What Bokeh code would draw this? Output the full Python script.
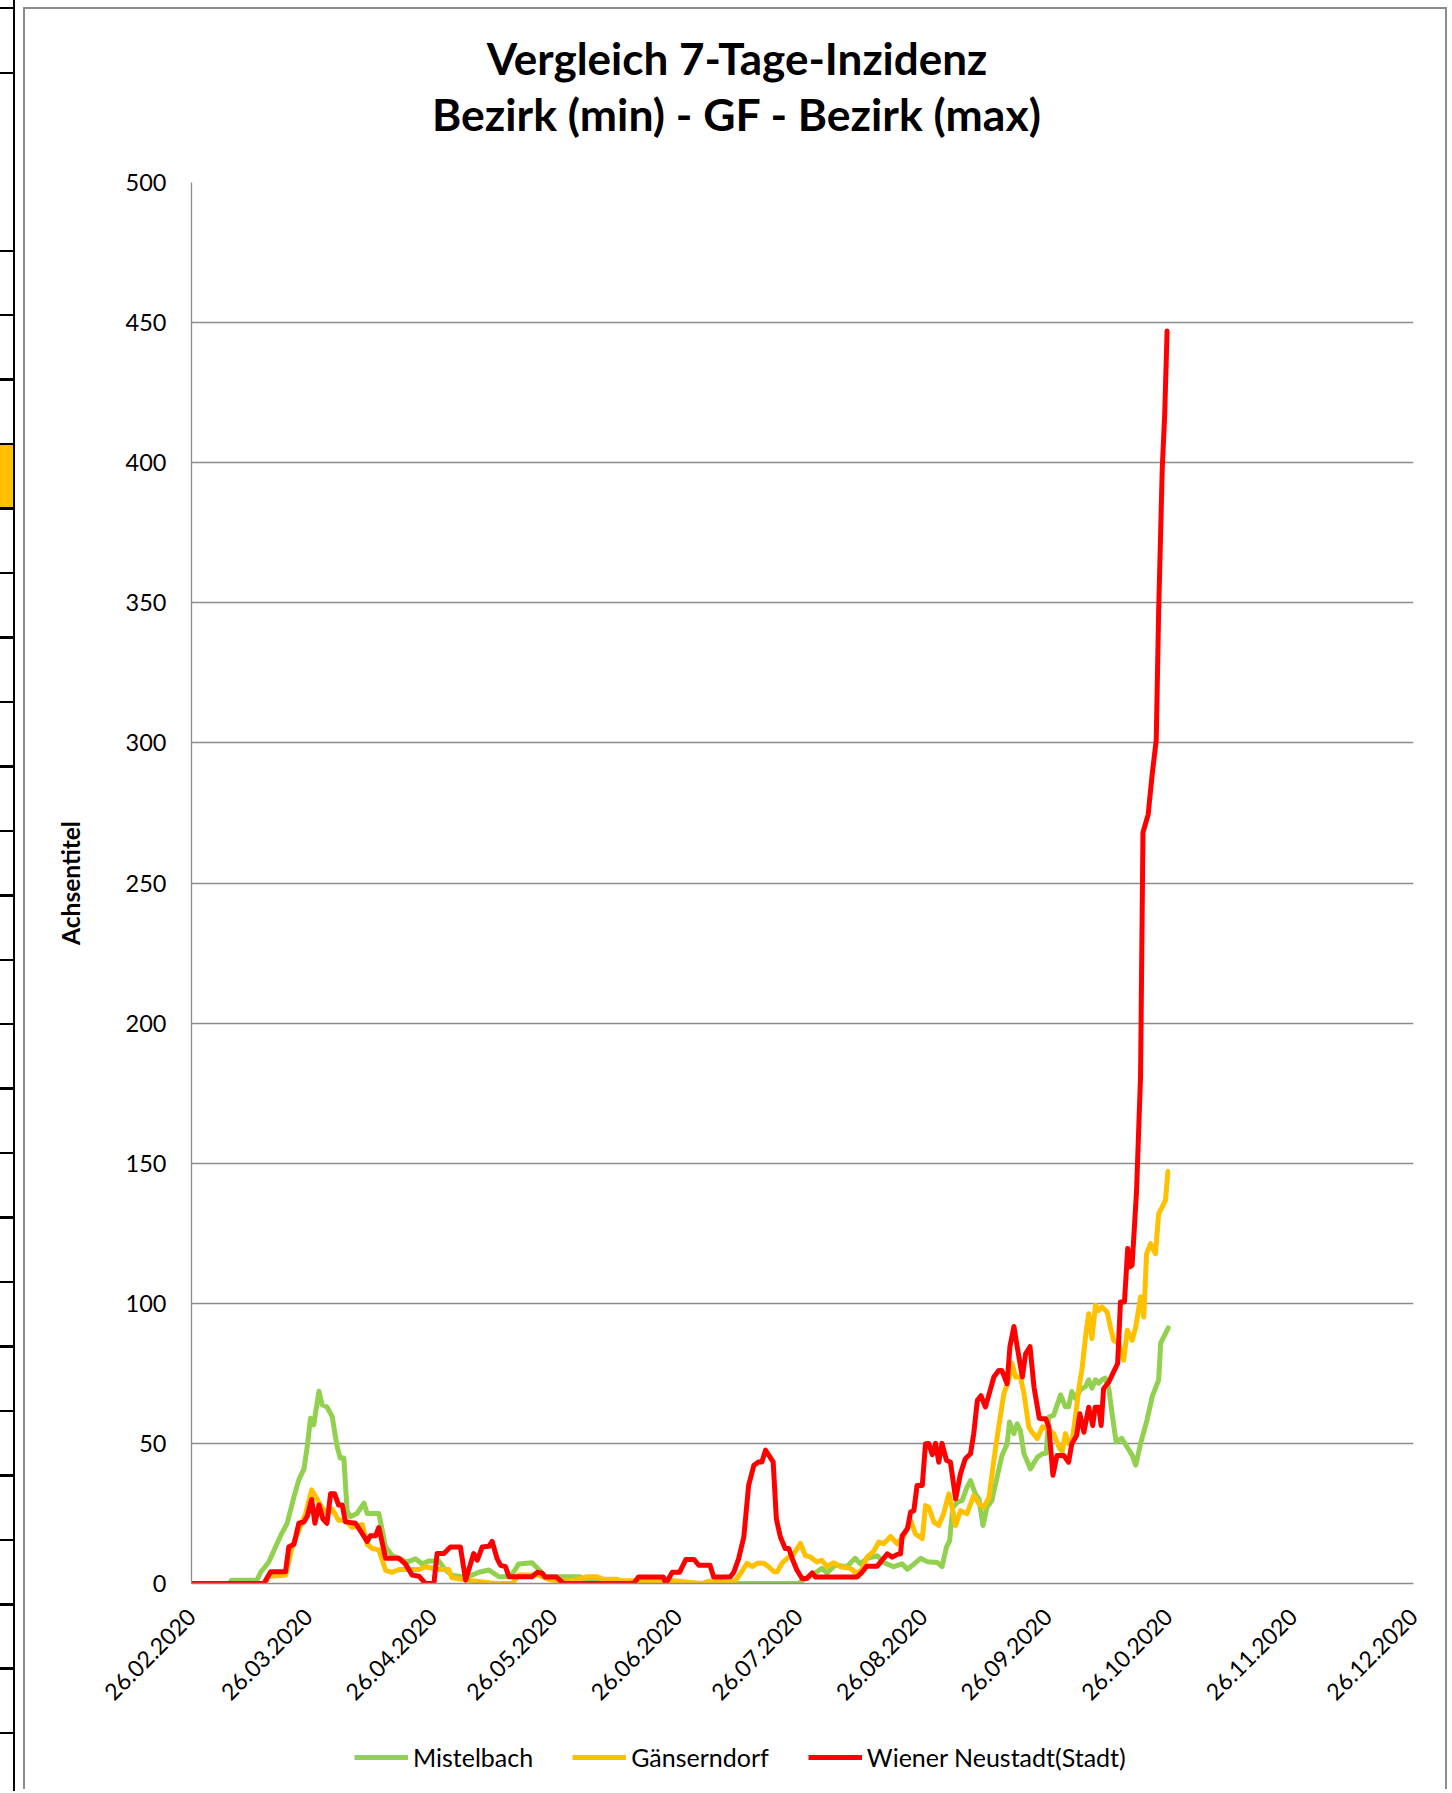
import pandas as pd
from math import pi
from bokeh.plotting import figure
from bokeh.models import (Range1d, FixedTicker, Legend, LegendItem, Label, Div,
                          ColumnDataSource)
from bokeh.layouts import row, column
from bokeh.embed import file_html
from bokeh.resources import INLINE

# ---------------- data ----------------
START_DATE = "2020-02-26"          # first day of the series (day 0)
x_tick_labels = ["26.02.2020", "26.03.2020", "26.04.2020", "26.05.2020",
                 "26.06.2020", "26.07.2020", "26.08.2020", "26.09.2020",
                 "26.10.2020", "26.11.2020", "26.12.2020"]
y_ticks = [0, 50, 100, 150, 200, 250, 300, 350, 400, 450, 500]

title_lines = ["Vergleich 7-Tage-Inzidenz", "Bezirk (min) - GF - Bezirk (max)"]
y_axis_title = "Achsentitel"
series_names = ["Mistelbach", "Gänserndorf", "Wiener Neustadt(Stadt)"]
series_colors = ["#92D050", "#FFC000", "#FF0000"]

# days since 26.02.2020 / 7-day incidence
mistelbach_day = [0, 9.3, 10, 16.3, 17.2, 19.2, 20.9, 22.5, 23.8, 25.5, 26.7, 28, 28.8, 29.6,
                  30.4, 31.7, 32.5, 33.7, 35, 36.2, 37, 37.9, 38.7, 39.5, 41.2, 42.9, 43.7,
                  46.6, 48.3, 49.9, 51.6, 53.6, 55.7, 57.4, 59, 61.5, 63.2, 64.8, 67.3, 69.8,
                  71.5, 74, 76.5, 79.4, 81.4, 84.7, 86.4, 88, 96.7, 97.9, 100, 103.4, 110,
                  151, 152.3, 155.6, 156.8, 158.1, 160.2, 163, 165.1, 166.4, 168.1, 170.6,
                  172.2, 174.7, 176.8, 178.1, 179.7, 181.4, 183, 185.5, 186.7, 187.8, 188.6,
                  189.4, 190.5, 191.7, 192.9, 193.8, 195, 195.9, 196.9, 197.9, 199.1, 200.4,
                  201.6, 202.9, 203.5, 204.6, 205.4, 206.2, 207.1, 208.7, 210.4, 211.7,
                  212.6, 213.3, 214.5, 216.2, 217.4, 218.2, 219, 219.9, 221.1, 222.4, 223.2,
                  224, 224.9, 225.7, 226.5, 227.3, 228.2, 229, 230, 231.4, 232.7, 234,
                  234.9, 236.1, 237.7, 239, 240.6, 241.1, 243]
mistelbach_val = [0, 0, 1.2, 1.2, 4, 7.6, 13, 18, 21.5, 31, 37, 41, 49, 59,
                  56.6, 68.6, 63.8, 63, 59.6, 49, 44.8, 44.8, 26, 23.8, 25, 28.7, 25,
                  25, 13, 10, 9, 7.6, 8.8, 7, 8, 8, 4.7, 3, 2.4, 3,
                  4, 4.8, 2.4, 2.4, 7, 7.4, 5, 2.4, 2.4, 0.6, 1.2, 0.6, 0,
                  0, 1.4, 4.2, 5.4, 3.8, 6.6, 6, 9, 7, 9, 9.9,
                  7.5, 6, 7, 5.1, 6.9, 9, 7.8, 7.5, 6, 12.9, 15.3,
                  27.2, 29, 29.6, 34.3, 36.7, 32, 30.2, 20.7, 27.2, 29.6, 37.9,
                  45.6, 49.8, 57.6, 53.5, 57, 54.6, 46.3, 40.9, 45, 46.3,
                  46.5, 59.4, 60.1, 67.3, 63.1, 63.1, 68.5, 66.1, 69.1, 70.3, 72.7,
                  69.7, 72.7, 71.5, 72.7, 73.3, 69.7, 60.8, 50.6, 51.8, 48.8, 45.8,
                  42.2, 49.9, 58.3, 66.7, 72.7, 85.8, 91.2]

gaenserndorf_day = [0, 18.4, 19, 23.4, 25, 26.7, 28.4, 29.9, 31.3, 32.5, 33.7, 35, 36.6, 38.3,
                    40, 42.5, 43.7, 45, 46.6, 48.3, 49.9, 51.6, 56.6, 58.2, 61.5, 64, 64.8,
                    69.8, 75.6, 79.8, 81.4, 86.4, 88.9, 91.8, 95, 98.4, 100.9, 102.5, 105.9,
                    106.7, 120, 124.1, 127, 128.2, 129.9, 134, 135.3, 136.6, 138.2, 139.5,
                    140.7, 142.4, 143.6, 144.9, 145.7, 146.9, 148.2, 149.8, 151.5, 152.7,
                    153.9, 155.6, 156.8, 158.1, 159.7, 161.4, 163.9, 165.6, 166.8, 168.1,
                    169.7, 171, 172.2, 173.9, 175.6, 177.2, 178.9, 180.1, 181.8, 182.6,
                    183.4, 184.7, 185.9, 187.1, 188.4, 189.2, 190.1, 191.3, 192.9, 194.6,
                    195.9, 197.1, 198.4, 199.6, 200.8, 202.1, 203.3, 204.1, 205, 206.2,
                    207.1, 208.3, 209.1, 210.4, 211.7, 212.9, 214.5, 215.8, 216.6, 217.4,
                    218.2, 219.1, 219.9, 220.7, 221.6, 222.4, 223.2, 224, 224.9, 225.7,
                    226.5, 227.8, 228.6, 229.4, 230.7, 231.9, 232.8, 234, 234.9, 235.7,
                    236.1, 236.9, 237.6, 238.6, 239.8, 240.6, 241.5, 242.3, 242.9]
gaenserndorf_val = [0, 0, 2.5, 3, 13, 19, 25, 33.4, 30, 27, 25, 26.5, 22.6, 22.6,
                    20, 21, 14, 12.5, 12, 4.7, 4, 5, 5, 6, 5, 5, 2,
                    1, 0, 0, 3, 3, 1.4, 0.8, 1, 2.4, 2.4, 1.5, 1.5,
                    1, 1, 0.4, 0, 0.6, 1, 0.4, 1, 3.6, 7.2, 6,
                    7.2, 7.2, 6, 4.2, 4.2, 7.2, 9, 10.5, 14.3, 10,
                    9.5, 7.7, 8.3, 6, 7.4, 6, 5.4, 3.6, 5, 9.5,
                    11.5, 14.8, 14.2, 16.8, 14.2, 17, 22.5, 17.7, 16, 27.8,
                    27.2, 21.9, 20.7, 24.9, 32, 27.2, 20.7, 26, 24.9, 31.4,
                    28.4, 27.2, 30.8, 44, 55.9, 67.8, 72.6, 78.6, 73.7, 73.7,
                    67.8, 55.9, 54, 51.7, 55.9, 55.2, 53.5, 48.7, 47, 53.5,
                    50, 51.2, 59.5, 69, 77.3, 88, 96.3, 87.4, 99.3, 97.5,
                    98.7, 96.9, 91.5, 86.8, 85.6, 79.7, 90.4, 86.8, 91.5, 98.7,
                    102.3, 95.1, 117.7, 121.3, 117.7, 132, 134.4, 136.8, 147]

wr_neustadt_day = [0, 18, 19.7, 23.4, 24.2, 25.5, 26.7, 28, 28.8, 29.9, 30.7, 31.7, 32.7, 33.7,
                   34.6, 35.6, 36.6, 37.5, 38.3, 40.8, 43.7, 44.5, 45.8, 46.6, 48.3, 51.6,
                   53.2, 54.9, 56.6, 58.2, 60.3, 61.1, 62.8, 64.4, 66.9, 68.2, 70.2, 71.1,
                   72.3, 74, 74.8, 76, 76.9, 78.1, 79, 84.7, 86, 87.2, 88, 90.8, 92.6, 110,
                   111.2, 117.4, 118, 119.6, 121.4, 123, 125, 126.2, 129, 129.9, 134, 134.9,
                   136.1, 137.4, 138.6, 139.9, 141.1, 141.9, 142.8, 143.8, 144.7, 145.5,
                   146.5, 147.7, 148.6, 149.6, 150.6, 151.9, 153.1, 154.4, 155.2, 165.6,
                   166.8, 168, 170.6, 173.1, 174.3, 175.6, 176.4, 176.8, 178.1, 178.9,
                   179.7, 180.5, 181.8, 182.6, 183.4, 184.3, 185.1, 185.9, 186.7, 187.8,
                   188.8, 190.1, 191.3, 192.5, 193.8, 194.6, 195.5, 196.4, 197.5, 198.7,
                   199.6, 200.8, 201.6, 202.9, 203.6, 204.6, 205.4, 206.7, 207.5, 208.6,
                   209.6, 210.9, 211.7, 212.5, 213.3, 214.3, 215.3, 217, 218.2, 219, 220.2,
                   221, 222, 223.2, 224.2, 224.8, 225.7, 226.3, 226.9, 228.2, 229.4, 230.4,
                   231.1, 232.1, 232.9, 233.4, 234, 235.1, 236.1, 236.7, 238, 239, 240,
                   240.6, 241.5, 242.1, 242.7]
wr_neustadt_val = [0, 0, 4.2, 4.2, 13, 14, 21.5, 22, 24, 30, 21.5, 28, 23, 21.5,
                   32, 32, 28, 28, 22, 21.5, 15, 17, 17, 20, 9, 9,
                   7, 3, 2.6, 0, 0, 10.7, 10.7, 13, 13, 1.2, 10.7, 8.3,
                   13, 13.3, 15, 9, 6.5, 6, 2.4, 2.4, 4, 3.7, 2.3, 2.3, 0, 0,
                   2.3, 2.3, 0, 4, 4, 8.6, 8.6, 6.5, 6.5, 2.3, 2.3, 4,
                   8.8, 16.6, 35, 42.2, 43.4, 43.4, 47.6, 45.4, 43.4, 23,
                   16.6, 12.5, 12.5, 8.3, 4.8, 1.8, 1.8, 3.8, 2.3, 2.3,
                   4, 6.2, 6.2, 10.6, 9.4, 10.4, 10.6, 17, 19.5, 25.5,
                   26, 35, 35, 49.9, 50, 46, 50, 43.3, 50, 44,
                   43.3, 30.2, 39.2, 44.5, 46.3, 53.5, 65.4, 67, 63, 69,
                   73.7, 76, 76, 71.3, 84.5, 91.7, 84.5, 73.7, 82, 84.5,
                   70, 59, 58.8, 58.8, 55.8, 38.6, 45.7, 45.7, 43.3, 49.9, 52.8,
                   60.6, 54, 62.9, 56.4, 62.9, 62.9, 56.4, 69.5, 71.9, 75.5, 78.5,
                   100.5, 100.5, 119.6, 113, 113.6, 140, 181, 268, 274.5, 288.9, 301,
                   347, 398, 417, 447]

series_days = [mistelbach_day, gaenserndorf_day, wr_neustadt_day]
series_vals = [mistelbach_val, gaenserndorf_val, wr_neustadt_val]

# ---------------- styling ----------------
FONT = "Lato"
GRID = "#8c8c8c"
BORDER = "2px solid #8c8c8c"
W = 1424
start = pd.Timestamp(START_DATE)
tick_dates = pd.to_datetime(x_tick_labels, format="%d.%m.%Y")
tick_ms = [float(t.value // 10**6) for t in tick_dates]


def bare(fig):
    fig.grid.visible = False
    fig.outline_line_color = None
    fig.background_fill_color = "white"
    fig.border_fill_color = "white"


# ---- title strip (top of the chart area) ----
TH = 150
tf = figure(width=W, height=TH, title=None, output_backend="svg", toolbar_location=None,
            x_axis_location=None, y_axis_location=None, min_border=0,
            x_range=Range1d(0, 1), y_range=Range1d(0, TH))
tf.margin = (7, 0, 0, 0)
tf.styles = {"border-top": BORDER, "border-left": BORDER, "border-right": BORDER}
bare(tf)
for txt, ybase, fs in zip(title_lines, [102.0, 45.8], ["44px", "44.5px"]):
    tf.add_layout(Label(x=0.5, y=ybase, x_offset=-65.5, text=txt, text_align="center",
                        text_baseline="alphabetic", text_font=FONT, text_font_size=fs,
                        text_font_style="bold", text_color="black"))

# ---- main chart ----
p = figure(width=W, height=1562, title=None, x_axis_type="datetime",
           x_range=Range1d(tick_dates[0], tick_dates[-1]), y_range=Range1d(0, 500),
           output_backend="svg", toolbar_location=None,
           min_border_left=166, min_border_right=36, min_border_top=25,
           min_border_bottom=136)
p.styles = {"border-left": BORDER, "border-right": BORDER}
p.outline_line_color = None
p.background_fill_color = "white"
p.border_fill_color = "white"

sources = []
for name, color, days, vals in zip(series_names, series_colors, series_days, series_vals):
    src = ColumnDataSource(dict(date=start + pd.to_timedelta(days, unit="D"), value=vals))
    sources.append(src)
    p.line("date", "value", source=src, line_color=color, line_width=5,
           line_join="round", line_cap="round")

p.xgrid.visible = False
p.ygrid.grid_line_color = GRID
p.ygrid.grid_line_width = 1.3

yax = p.yaxis[0]
yax.ticker = FixedTicker(ticks=y_ticks)
yax.axis_line_color = GRID
yax.axis_line_width = 1.3
yax.major_tick_line_color = None
yax.minor_tick_line_color = None
yax.major_tick_out = 0
yax.major_tick_in = 0
yax.major_label_standoff = 25
yax.major_label_text_font = FONT
yax.major_label_text_font_size = "23.5px"
yax.major_label_text_color = "black"
yax.axis_label = y_axis_title
yax.axis_label_text_font = FONT
yax.axis_label_text_font_size = "24.5px"
yax.axis_label_text_font_style = "bold"
yax.axis_label_text_color = "black"
yax.axis_label_standoff = 38

xax = p.xaxis[0]
xax.ticker = FixedTicker(ticks=tick_ms)
xax.major_label_overrides = {ms: lab for ms, lab in zip(tick_ms, x_tick_labels)}
xax.axis_line_color = GRID
xax.axis_line_width = 1.3
xax.major_tick_line_color = None
xax.minor_tick_line_color = None
xax.major_tick_out = 0
xax.major_tick_in = 0
xax.major_label_orientation = pi / 4
xax.major_label_standoff = 29
xax.major_label_text_font = FONT
xax.major_label_text_font_size = "23px"
xax.major_label_text_color = "black"

# ---- legend strip (bottom of the chart area) ----
LH = 70
lg = figure(width=W, height=LH, title=None, output_backend="svg", toolbar_location=None,
            x_axis_location=None, y_axis_location=None, min_border=0,
            x_range=Range1d(0, 1), y_range=Range1d(0, 1))
lg.styles = {"border-left": BORDER, "border-right": BORDER}
bare(lg)
# the same series, outside this strip's ranges: only their legend keys show
keys = [lg.line("date", "value", source=s, line_color=c, line_width=5)
        for s, c in zip(sources, series_colors)]
legend = Legend(items=[LegendItem(label=n, renderers=[k]) for n, k in zip(series_names, keys)],
                orientation="horizontal", location=(163, -2.5),
                border_line_color=None, background_fill_alpha=0,
                padding=0, margin=0, spacing=39, label_standoff=5,
                glyph_width=54, glyph_height=LH, label_height=LH,
                label_text_font=FONT, label_text_font_size="25px",
                label_text_color="black")
lg.add_layout(legend, "center")

# ---- spreadsheet cells visible left of the chart object ----
cell_lines = [7.7, 72.7] + [250.7 + 64.45 * k for k in range(24)]
parts = ['<div style="position:absolute;left:12.7px;top:0;width:2.5px;height:1793px;background:#000"></div>',
         '<div style="position:absolute;left:0;top:445px;width:12.7px;height:63px;background:#FFC000"></div>']
for yy in cell_lines:
    parts.append('<div style="position:absolute;left:0;top:%.1fpx;width:14px;height:2.5px;background:#000"></div>' % (yy - 1.2))
stripe = Div(text='<div style="position:relative;width:23px;height:1791px;overflow:hidden">' + "".join(parts) + "</div>",
             width=23, height=1791, margin=0)

layout = row(stripe, column(tf, p, lg))
open("out.html", "w").write(file_html(layout, INLINE))
